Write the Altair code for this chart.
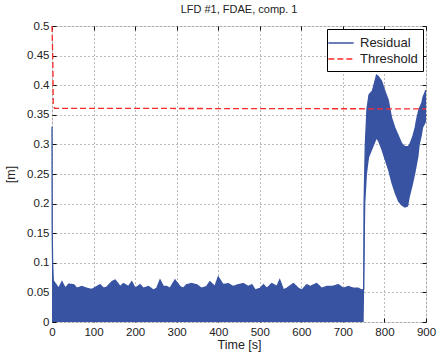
import altair as alt
import pandas as pd

FONT = "Liberation Sans"
BLUE = "#3853a2"
RED = "#ff2a2a"

# Residual envelope (upper / lower edge of the dense oscillation)
res_t = [0, 0.5, 1.5, 3, 8, 16, 24, 32, 40, 52, 60, 72, 84, 96, 108, 116, 124, 132, 144, 152,
         164, 172, 184, 192, 200, 212, 220, 232, 244, 252, 260, 268, 276, 284, 296, 308, 316,
         324, 336, 348, 360, 372, 380, 392, 400, 412, 424, 436, 448, 460, 472, 481, 489, 501,
         509, 517, 529, 541, 548, 557, 565, 581, 593, 601, 613, 621, 637, 649, 661, 673, 689,
         701, 713, 725, 737, 745, 750,
         751, 754, 758, 763, 771, 781, 785, 793, 801, 809, 817, 825, 833, 841, 849, 857, 861,
         866, 869, 874, 877, 882, 885, 890, 893, 900]
res_hi = [0.33, 0.15, 0.10, 0.07, 0.065, 0.057, 0.068, 0.057, 0.064, 0.063, 0.057, 0.060, 0.057,
          0.055, 0.060, 0.063, 0.057, 0.059, 0.068, 0.071, 0.060, 0.065, 0.060, 0.068, 0.057,
          0.063, 0.057, 0.060, 0.054, 0.057, 0.071, 0.060, 0.060, 0.057, 0.071, 0.060, 0.057,
          0.063, 0.065, 0.063, 0.057, 0.060, 0.068, 0.060, 0.076, 0.063, 0.065, 0.060, 0.063,
          0.065, 0.060, 0.063, 0.054, 0.057, 0.063, 0.057, 0.065, 0.060, 0.071, 0.054, 0.057,
          0.065, 0.057, 0.054, 0.063, 0.060, 0.065, 0.057, 0.060, 0.060, 0.063, 0.057, 0.060,
          0.057, 0.057, 0.054, 0.055,
          0.20, 0.30, 0.36, 0.384, 0.39, 0.417, 0.415, 0.407, 0.39, 0.375, 0.345, 0.328, 0.315,
          0.302, 0.296, 0.296, 0.300, 0.309, 0.315, 0.328, 0.34, 0.356, 0.362, 0.37, 0.38, 0.392]
res_lo = [0.0] * 77 + [0.05, 0.20, 0.25, 0.278, 0.292, 0.309, 0.305, 0.29, 0.273, 0.256, 0.234,
                       0.217, 0.203, 0.197, 0.193, 0.195, 0.211, 0.225, 0.234, 0.25, 0.261, 0.28,
                       0.30, 0.315, 0.328, 0.338]

thr_t = [0, 2, 3, 6, 900]
thr_v = [0.5, 0.44, 0.37, 0.361, 0.36]

series_names = ["Residual", "Threshold"]
x_ticks = [0, 100, 200, 300, 400, 500, 600, 700, 800, 900]
y_ticks = [0, 0.05, 0.1, 0.15, 0.2, 0.25, 0.3, 0.35, 0.4, 0.45, 0.5]

res_df = pd.DataFrame({"t": res_t, "hi": res_hi, "lo": res_lo})
line_df = pd.concat([
    pd.DataFrame({"t": res_t, "v": res_hi, "series": series_names[0]}),
    pd.DataFrame({"t": thr_t, "v": thr_v, "series": series_names[1]}),
])

common = dict(offset=-4, tickSize=4, domain=False, labelFlush=False, labelOverlap=False,
              labelFont=FONT, labelFontSize=11.5, labelColor="#222", titleFont=FONT,
              titleFontSize=12.5, titleFontWeight="normal", titleColor="#222", tickColor="#111")

x_axis = alt.Axis(values=x_ticks, title="Time [s]", format="d", labelPadding=4, titlePadding=1,
                  grid=True, gridDash=[1, 3], gridColor="#777", **common)
y_axis = alt.Axis(values=y_ticks, title="[m]", format=".2~f", labelPadding=3, titlePadding=9,
                  grid=True, gridDash=[1, 3], gridColor="#777", **common)
x_axis_top = alt.Axis(values=x_ticks, orient="top", title=None, labels=False, grid=False, **common)
y_axis_right = alt.Axis(values=y_ticks, orient="right", title=None, labels=False, grid=False, **common)

xs = alt.Scale(domain=[0, 900], nice=False, zero=False)
ys = alt.Scale(domain=[0, 0.5], nice=False)

area = alt.Chart(res_df).mark_area(color=BLUE, opacity=1).encode(
    x=alt.X("t:Q", scale=xs, axis=x_axis),
    y=alt.Y("hi:Q", scale=ys, axis=y_axis),
    y2="lo:Q",
)

box_ticks = alt.Chart(res_df).mark_point(opacity=0).encode(
    x=alt.X("t:Q", scale=xs, axis=x_axis_top),
    y=alt.Y("hi:Q", scale=ys, axis=y_axis_right),
)

leg = alt.Legend(title=None, orient="top-right", offset=3, strokeColor="black", fillColor="white",
                 padding=5, symbolType="M-1.6,0H1.6", symbolSize=250, symbolStrokeWidth=1.6,
                 labelFont=FONT, labelFontSize=13, labelColor="#222", rowPadding=-2,
                 labelOffset=10)

lines = alt.Chart(line_df).mark_line(strokeWidth=1.3).encode(
    x=alt.X("t:Q", scale=xs, axis=None),
    y=alt.Y("v:Q", scale=ys, axis=None),
    color=alt.Color("series:N", scale=alt.Scale(domain=series_names, range=[BLUE, RED]), legend=leg),
    strokeDash=alt.StrokeDash("series:N", scale=alt.Scale(domain=series_names, range=[[1, 0], [6, 3]]),
                              legend=leg),
)

chart = alt.layer(area, box_ticks, lines).resolve_scale(
    x="independent", y="independent"
).properties(
    width=374, height=296,
    autosize=alt.AutoSizeParams(type="none"),
    padding={"left": 52, "top": 26, "right": 11, "bottom": 36},
    title=alt.Title("LFD #1, FDAE, comp. 1", font=FONT, fontSize=11, fontWeight="normal",
                    color="#222", offset=5),
).configure_view(stroke="black", strokeWidth=1.2).configure(background="white")

chart.save("out.html", embed_options={"renderer": "svg", "actions": False})
